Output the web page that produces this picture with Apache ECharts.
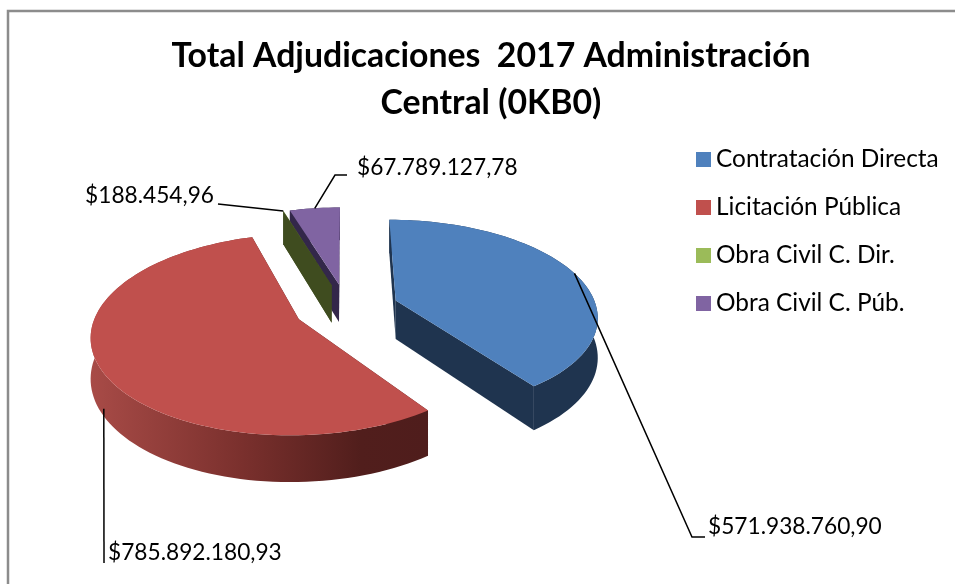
<!DOCTYPE html>
<html>
<head>
<meta charset="utf-8">
<title>Total Adjudicaciones 2017</title>
<style>
  html, body { margin: 0; padding: 0; background: #fff; }
  #chart { width: 955px; height: 584px; }
</style>
<script src="https://cdn.jsdelivr.net/npm/echarts@6/dist/echarts.min.js"></script>
</head>
<body>
<div id="chart"></div>
<script>
const titleText = 'Total Adjudicaciones  2017 Administración\nCentral (0KB0)';
const categories = ['Contratación Directa', 'Licitación Pública', 'Obra Civil C. Dir.', 'Obra Civil C. Púb.'];
const amounts = [571938760.90, 785892180.93, 188454.96, 67789127.78];
const topColors = ['#4F81BD', '#C0504D', '#9BBB59', '#8064A2'];
const wallColors = ['#1F344F', '#4F1D1C', '#3F4C1F', '#33274A'];

// layout of the fake 3d pie
const FONT = 'Lato, "Open Sans", sans-serif';
const cx = 346.5, cy = 308;
const rx = 201, ry = 95;
const persp = 0.15;     // front of the disc looks bigger than the back
const explode = 0.26;
const depth = 39;
// z order, back slices first
const drawOrder = [2, 4, 3, 1];
// where each label goes: elbow and end of the leader line, then the text
const leaders = [
  { elbow: [692, 537], end: [705, 537], text: [708, 527], align: 'left', wall: 0 },
  { elbow: [104, 563], end: [104, 563], text: [108, 553], align: 'left', wall: 1, shift: 5 },
  { elbow: [218, 204], end: [218, 204], text: [214, 196], align: 'right', wall: 0 },
  { elbow: [335, 175], end: [347, 175], text: [357, 168], align: 'left', wall: 0 }
];

const total = amounts.reduce((a, b) => a + b, 0);

function formatMoney(v) {
  const parts = v.toFixed(2).split('.');
  return '$' + parts[0].replace(/\B(?=(\d{3})+(?!\d))/g, '.') + ',' + parts[1];
}

function sliceAngles(idx) {
  let start = 0;
  for (let i = 0; i < idx; i++) start += amounts[i] / total * 360;
  return [start, start + amounts[idx] / total * 360];
}

// x,v are on the flat unit disc, v grows towards the viewer
function project(x, v, down) {
  const d = 1 - persp * v;
  return [cx + rx * x / d, cy + ry * v / d + (down ? depth / d : 0)];
}

function slicePoints(idx) {
  const [a0, a1] = sliceAngles(idx);
  const mid = (a0 + a1) / 2 * Math.PI / 180;
  const ox = explode * Math.sin(mid), ov = -explode * Math.cos(mid);
  const arc = [];
  const steps = Math.max(1, Math.ceil((a1 - a0) / 2));
  for (let i = 0; i <= steps; i++) {
    const a = (a0 + (a1 - a0) * i / steps) * Math.PI / 180;
    arc.push([ox + Math.sin(a), ov - Math.cos(a)]);
  }
  return { apex: [ox, ov], arc: arc, mid: mid, ox: ox, ov: ov };
}

function renderSlice(params, api) {
  const idx = params.seriesIndex;
  const s = slicePoints(idx);
  const wall = wallColors[idx];
  const top = s.arc.map(p => project(p[0], p[1], false));
  const bottom = s.arc.map(p => project(p[0], p[1], true));
  const apexTop = project(s.apex[0], s.apex[1], false);
  const apexBottom = project(s.apex[0], s.apex[1], true);
  let rimFill = wall;
  if (idx === 1) {
    rimFill = new echarts.graphic.LinearGradient(0, 0, 1, 0, [
      { offset: 0, color: '#A84B47' },
      { offset: 0.45, color: '#7A302D' },
      { offset: 0.8, color: '#511E1C' },
      { offset: 1, color: '#4F1D1C' }
    ]);
  }
  const poly = (points, fill) => ({ type: 'polygon', shape: { points: points }, style: { fill: fill } });
  return {
    type: 'group',
    children: [
      poly([apexTop, top[0], bottom[0], apexBottom], wall),
      poly([apexTop, top[top.length - 1], bottom[bottom.length - 1], apexBottom], wall),
      poly(top.concat(bottom.slice().reverse()), rimFill),
      poly([apexTop].concat(top), topColors[idx])
    ]
  };
}

function renderLeader(params, api) {
  const idx = api.value(0);
  const cfg = leaders[idx];
  const s = slicePoints(idx);
  const start = project(s.ox + Math.sin(s.mid), s.ov - Math.cos(s.mid), cfg.wall === 1);
  if (cfg.shift) start[0] += cfg.shift;
  return {
    type: 'group',
    children: [
      {
        type: 'polyline',
        shape: { points: [start, cfg.elbow, cfg.end] },
        style: { fill: null, stroke: '#000', lineWidth: 1.5 }
      },
      {
        type: 'text',
        x: cfg.text[0],
        y: cfg.text[1],
        style: {
          text: formatMoney(amounts[idx]),
          align: cfg.align,
          verticalAlign: 'middle',
          fill: '#000',
          font: '22.7px ' + FONT
        }
      }
    ]
  };
}

const series = categories.map((name, i) => ({
  name: name,
  type: 'custom',
  coordinateSystem: 'none',
  z: drawOrder[i],
  silent: true,
  itemStyle: { color: topColors[i] },
  data: [amounts[i]],
  renderItem: renderSlice
}));
series.push({
  name: 'labels',
  type: 'custom',
  coordinateSystem: 'none',
  z: 10,
  silent: true,
  data: categories.map((c, i) => [i]),
  renderItem: renderLeader
});

const chart = echarts.init(document.getElementById('chart'), null, { renderer: 'canvas' });
chart.setOption({
  animation: false,
  backgroundColor: '#fff',
  title: {
    text: titleText,
    left: 486,
    top: 28,
    textAlign: 'center',
    textStyle: { fontFamily: FONT, fontSize: 33.8, fontWeight: 'bold', color: '#000', lineHeight: 47 }
  },
  legend: {
    data: categories,
    orient: 'vertical',
    left: 696,
    top: 147.5,
    padding: 0,
    itemWidth: 15,
    itemHeight: 15,
    itemGap: 24,
    icon: 'rect',
    selectedMode: false,
    textStyle: { fontFamily: FONT, fontSize: 24.4, color: '#000', lineHeight: 24 }
  },
  graphic: [
    { type: 'polyline', silent: true, z: 0, shape: { points: [[8, 584], [8, 11], [955, 11]] }, style: { fill: null, stroke: '#8C8C8C', lineWidth: 2.5 } }
  ],
  series: series
});
</script>
</body>
</html>
